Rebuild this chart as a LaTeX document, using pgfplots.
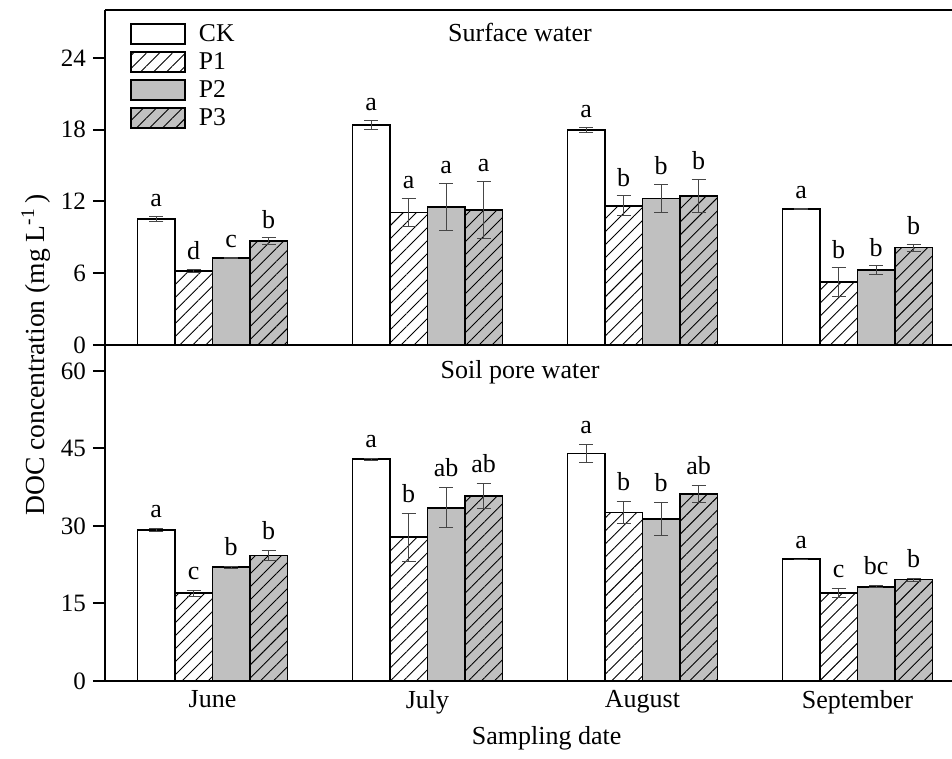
\documentclass[border=0pt]{standalone}
\usepackage{fontspec}
\setmainfont{Liberation Serif}
\usepackage{pgfplots}
\pgfplotsset{compat=1.18}
\usepackage{pgfplotstable}
\usetikzlibrary{patterns.meta}
\definecolor{bargray}{RGB}{192,192,192}
\definecolor{errgray}{RGB}{70,70,70}

% Surface water
\pgfplotstableread{
x y err lab
0 10.53 0.20 a
1 18.39 0.40 a
2 17.97 0.20 a
3 11.36 0.05 a
}\sCK
\pgfplotstableread{
x y err lab
0 6.17 0.15 d
1 11.08 1.20 a
2 11.64 0.83 b
3 5.25 1.20 b
}\sPa
\pgfplotstableread{
x y err lab
0 7.28 0.06 c
1 11.53 2.00 a
2 12.25 1.20 b
3 6.25 0.36 b
}\sPb
\pgfplotstableread{
x y err lab
0 8.69 0.28 b
1 11.30 2.40 a
2 12.47 1.40 b
3 8.14 0.30 b
}\sPc
% Soil pore water
\pgfplotstableread{
x y err lab
0 29.2 0.30 a
1 42.9 0.20 a
2 44.0 1.70 a
3 23.6 0.00 a
}\pCK
\pgfplotstableread{
x y err lab
0 17.0 0.60 c
1 27.8 4.60 b
2 32.6 2.10 b
3 17.0 0.90 c
}\pPa
\pgfplotstableread{
x y err lab
0 22.0 0.15 b
1 33.5 3.90 ab
2 31.3 3.20 b
3 18.2 0.20 bc
}\pPb
\pgfplotstableread{
x y err lab
0 24.3 1.00 b
1 35.8 2.40 ab
2 36.2 1.70 ab
3 19.6 0.30 b
}\pPc

\pgfplotsset{
  mylegend/.style={legend image code/.code={\draw[##1] (0pt,-5pt) rectangle (27pt,5pt);}},
  barbase/.style={ybar, bar width=0.1744, bar shift=0pt, draw=black, line width=0.8pt,
    error bars/.cd, y dir=both, y explicit,
    error bar style={line width=0.5pt, draw=errgray},
    error mark options={rotate=90, mark size=3.5pt, line width=0.5pt, draw=errgray},
    /pgfplots/.cd, mylegend},
  sck/.style={barbase, fill=white},
  sp1/.style={barbase, fill=white,
    postaction={pattern color=black, pattern={Lines[angle=45,distance=4.6pt,line width=0.45pt]}}},
  sp2/.style={barbase, fill=bargray},
  sp3/.style={barbase, fill=bargray,
    postaction={pattern color=black, pattern={Lines[angle=45,distance=4.6pt,line width=0.45pt]}}},
  lettersty/.style={forget plot, draw=none, mark=none, nodes near coords,
    point meta=explicit symbolic,
    nodes near coords style={anchor=south, inner sep=0pt, font=\fontsize{13}{15}\selectfont, text=black}},
  panel/.style={scale only axis, width=423.5pt,
    xmin=-0.5, xmax=3.44, ymin=0, enlargelimits=false,
    axis x line*=box, axis y line*=left,
    axis line style={line width=1pt},
    tick align=outside, major tick length=6pt,
    ytick style={line width=1pt, black},
    xtick style={draw=none},
    tick label style={font=\fontsize{12.5}{14}\selectfont},
    /pgf/number format/assume math mode=true,
    clip=false},
}

\begin{document}
\begin{tikzpicture}
% top panel
\begin{axis}[panel, at={(52.5pt,207pt)}, anchor=south west, height=167.5pt,
  ymax=28, ytick={0,6,12,18,24}, xtick=\empty,
  legend style={at={(axis description cs:0.0295,0.965)}, anchor=north west,
    draw=none, fill=none, inner sep=0pt, row sep=2.05pt,
    font=\fontsize{12.8}{14}\selectfont,
    nodes={inner sep=1pt},
    /tikz/every odd column/.append style={column sep=5.5pt}},
  legend cell align=left]
\addplot[sck] table[x expr=\thisrow{x}-0.2616, y=y, y error=err] {\sCK};
\addplot[sp1] table[x expr=\thisrow{x}-0.0872, y=y, y error=err] {\sPa};
\addplot[sp2] table[x expr=\thisrow{x}+0.0872, y=y, y error=err] {\sPb};
\addplot[sp3] table[x expr=\thisrow{x}+0.2616, y=y, y error=err] {\sPc};
\legend{CK,P1,P2,P3}
\addplot[lettersty] table[x expr=\thisrow{x}-0.2616, y expr=\thisrow{y}+\thisrow{err}+0.75, meta=lab] {\sCK};
\addplot[lettersty] table[x expr=\thisrow{x}-0.0872, y expr=\thisrow{y}+\thisrow{err}+0.75, meta=lab] {\sPa};
\addplot[lettersty] table[x expr=\thisrow{x}+0.0872, y expr=\thisrow{y}+\thisrow{err}+0.75, meta=lab] {\sPb};
\addplot[lettersty] table[x expr=\thisrow{x}+0.2616, y expr=\thisrow{y}+\thisrow{err}+0.75, meta=lab] {\sPc};
\node[font=\fontsize{13}{15}\selectfont] at (axis description cs:0.49,0.934) {Surface water};
\end{axis}
% bottom panel
\begin{axis}[panel, at={(52.5pt,39pt)}, anchor=south west, height=168pt,
  ymax=65, ytick={0,15,30,45,60},
  xtick={0,1,2,3}, xticklabels={June,July,August,September},
  xticklabel style={font=\fontsize{13}{15}\selectfont, yshift=5pt}]
\addplot[sck] table[x expr=\thisrow{x}-0.2616, y=y, y error=err] {\pCK};
\addplot[sp1] table[x expr=\thisrow{x}-0.0872, y=y, y error=err] {\pPa};
\addplot[sp2] table[x expr=\thisrow{x}+0.0872, y=y, y error=err] {\pPb};
\addplot[sp3] table[x expr=\thisrow{x}+0.2616, y=y, y error=err] {\pPc};
\addplot[lettersty] table[x expr=\thisrow{x}-0.2616, y expr=\thisrow{y}+\thisrow{err}+2.0, meta=lab] {\pCK};
\addplot[lettersty] table[x expr=\thisrow{x}-0.0872, y expr=\thisrow{y}+\thisrow{err}+2.0, meta=lab] {\pPa};
\addplot[lettersty] table[x expr=\thisrow{x}+0.0872, y expr=\thisrow{y}+\thisrow{err}+2.0, meta=lab] {\pPb};
\addplot[lettersty] table[x expr=\thisrow{x}+0.2616, y expr=\thisrow{y}+\thisrow{err}+2.0, meta=lab] {\pPc};
\node[font=\fontsize{13}{15}\selectfont] at (axis description cs:0.49,0.92) {Soil pore water};
\end{axis}
% shared labels
\node[rotate=90, font=\fontsize{13.8}{15}\selectfont] at (18pt,202pt) {DOC concentration (mg L\textsuperscript{-1}\,)};
\node[anchor=base, font=\fontsize{13}{15}\selectfont] at (273.3pt,7pt) {Sampling date};
\pgfresetboundingbox
\path[use as bounding box] (0,0) rectangle (476pt,379.5pt);
\end{tikzpicture}
\end{document}
